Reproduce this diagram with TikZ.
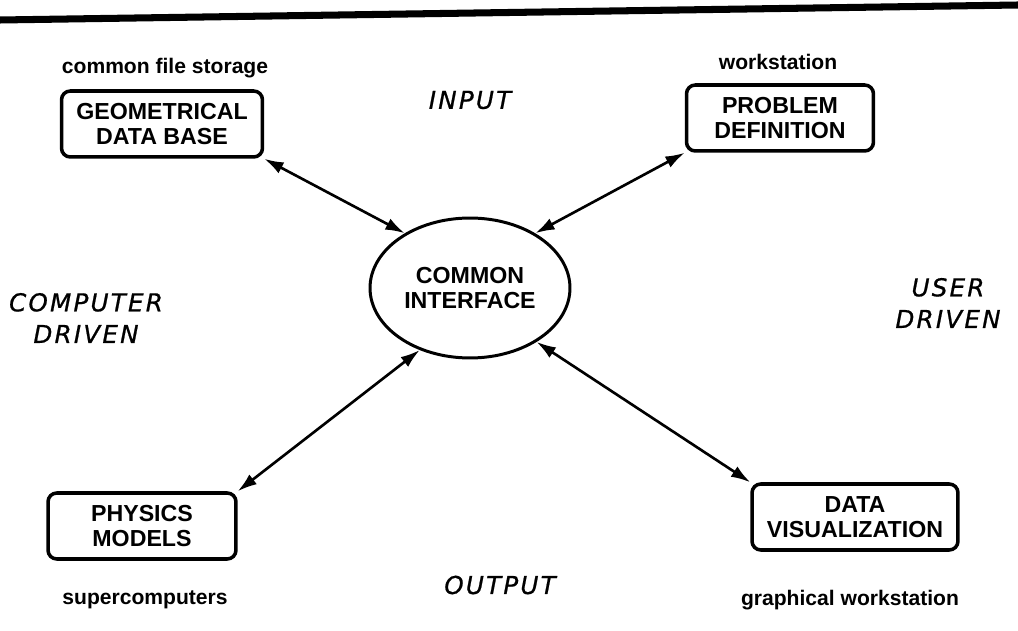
\documentclass[tikz,border=0pt]{standalone}
\usepackage{fontspec}
\setmainfont{Liberation Sans}
\newfontfamily\mainlevee[LetterSpace=9, FakeBold=0.8]{DejaVu Sans}
\usetikzlibrary{arrows.meta, shapes.geometric}

\tikzset{
  boite/.style={draw, line width=2pt, rounded corners=5pt, minimum width=#1,
    minimum height=1.32cm, align=center, font=\fontsize{13.2}{14}\selectfont\bfseries},
  poste/.style={font=\fontsize{12}{13}\selectfont\bfseries},
  sens/.style={font=\fontsize{14}{18}\selectfont\mainlevee\itshape, align=center},
  lien/.style={{Latex[length=11pt,width=7pt]}-{Latex[length=11pt,width=7pt]}, line width=1.5pt}
}

\begin{document}
\begin{tikzpicture}[x=0.02cm, y=-0.02cm]
    \useasboundingbox (0,0) rectangle (1018,631);
    % Trait du haut
    \draw[line width=4pt] (0,20) -- (1018,5);
    % Interface commune
    \node[draw, ellipse, line width=1.7pt, minimum width=4cm, minimum height=2.8cm,
      inner sep=0pt, align=center, font=\fontsize{13.2}{14}\selectfont\bfseries]
      (ci) at (470,288) {COMMON\\INTERFACE};
    % Les quatre boites
    \node[boite=4.02cm] (gdb) at (162,124) {GEOMETRICAL\\DATA BASE};
    \node[boite=3.74cm] (pd) at (780,118) {PROBLEM\\DEFINITION};
    \node[boite=3.76cm] (pm) at (142,526) {PHYSICS\\MODELS};
    \node[boite=4.12cm] (dv) at (855,517) {DATA\\VISUALIZATION};
    % Machines
    \node[poste] (cfs) at (165,68) {common file storage};
    \node[poste] (ws) at (778,62) {workstation};
    \node[poste] (sc) at (145,600) {supercomputers};
    \node[poste] (gw) at (850,600) {graphical workstation};
    % Entree / sortie
    \node[sens] (in) at (470,100) {INPUT};
    \node[sens] (out) at (500,585) {OUTPUT};
    \node[sens] (cd) at (86,318) {COMPUTER\\DRIVEN};
    \node[sens] (ud) at (948,303) {USER\\DRIVEN};
    % Fleches
    \draw[lien] (gdb.south east) -- (ci.140);
    \draw[lien] (pd.south west) -- (ci.40);
    \draw[lien] (pm.north east) -- (ci.231);
    \draw[lien] (dv.north west) -- (ci.321);
\end{tikzpicture}
\end{document}
